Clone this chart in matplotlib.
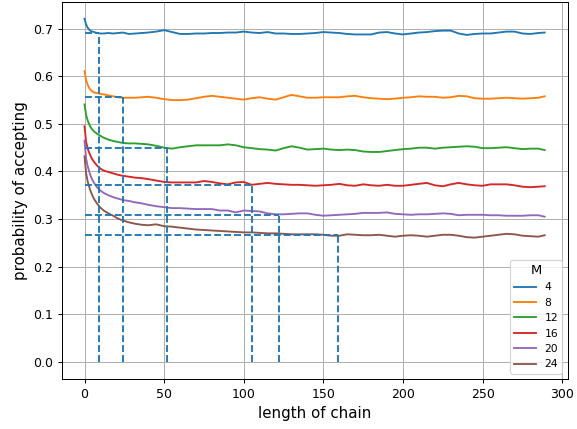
import matplotlib
matplotlib.use("Agg")
import matplotlib.pyplot as plt

# chain lengths at which the acceptance rate was recorded
steps = [0, 1, 2, 3, 4, 5, 6, 8, 10, 12, 15, 18, 21, 24, 28, 32, 36, 40, 45, 50,
         55, 60, 65, 70, 75, 80, 85, 90, 95, 100, 105, 110, 115, 120, 125, 130,
         135, 140, 145, 150, 155, 160, 165, 170, 175, 180, 185, 190, 195, 200,
         205, 210, 215, 220, 225, 230, 235, 240, 245, 250, 255, 260, 265, 270,
         275, 280, 285, 289]

m_values = [4, 8, 12, 16, 20, 24]

acc_m4 = [0.721, 0.709, 0.702, 0.698, 0.695, 0.694, 0.693, 0.691, 0.690, 0.690,
          0.691, 0.690, 0.691, 0.692, 0.689, 0.690, 0.691, 0.692, 0.694, 0.697,
          0.693, 0.689, 0.689, 0.690, 0.690, 0.691, 0.691, 0.692, 0.692, 0.694,
          0.692, 0.691, 0.693, 0.690, 0.690, 0.689, 0.689, 0.690, 0.691, 0.693,
          0.692, 0.691, 0.689, 0.688, 0.688, 0.688, 0.692, 0.693, 0.690, 0.688,
          0.690, 0.692, 0.693, 0.695, 0.696, 0.696, 0.690, 0.687, 0.689, 0.690,
          0.690, 0.692, 0.694, 0.694, 0.690, 0.689, 0.691, 0.692]

acc_m8 = [0.611, 0.592, 0.582, 0.575, 0.571, 0.568, 0.566, 0.565, 0.563, 0.562,
          0.560, 0.558, 0.556, 0.555, 0.555, 0.555, 0.556, 0.557, 0.555, 0.552,
          0.550, 0.550, 0.551, 0.554, 0.557, 0.559, 0.557, 0.555, 0.553, 0.551,
          0.554, 0.556, 0.553, 0.551, 0.556, 0.561, 0.558, 0.555, 0.555, 0.556,
          0.556, 0.556, 0.558, 0.559, 0.556, 0.554, 0.553, 0.552, 0.553, 0.555,
          0.556, 0.558, 0.557, 0.557, 0.555, 0.556, 0.559, 0.558, 0.554, 0.553,
          0.553, 0.554, 0.555, 0.554, 0.553, 0.554, 0.555, 0.558]

acc_m12 = [0.541, 0.519, 0.507, 0.499, 0.492, 0.488, 0.484, 0.479, 0.475, 0.471,
           0.467, 0.464, 0.462, 0.460, 0.459, 0.459, 0.458, 0.457, 0.454, 0.450,
           0.448, 0.451, 0.453, 0.455, 0.455, 0.455, 0.455, 0.457, 0.455, 0.451,
           0.449, 0.447, 0.446, 0.444, 0.449, 0.453, 0.450, 0.446, 0.447, 0.448,
           0.446, 0.445, 0.446, 0.445, 0.442, 0.441, 0.441, 0.443, 0.445, 0.447,
           0.448, 0.450, 0.450, 0.448, 0.450, 0.451, 0.452, 0.453, 0.452, 0.449,
           0.449, 0.450, 0.451, 0.449, 0.447, 0.448, 0.448, 0.445]

acc_m16 = [0.495, 0.462, 0.448, 0.439, 0.431, 0.425, 0.420, 0.412, 0.406, 0.402,
           0.399, 0.396, 0.393, 0.391, 0.389, 0.387, 0.386, 0.384, 0.381, 0.378,
           0.377, 0.377, 0.377, 0.377, 0.380, 0.378, 0.375, 0.373, 0.377, 0.378,
           0.372, 0.374, 0.376, 0.374, 0.373, 0.372, 0.372, 0.371, 0.370, 0.371,
           0.372, 0.374, 0.371, 0.370, 0.373, 0.371, 0.370, 0.372, 0.370, 0.370,
           0.372, 0.374, 0.376, 0.371, 0.369, 0.373, 0.376, 0.373, 0.371, 0.370,
           0.373, 0.373, 0.373, 0.371, 0.368, 0.367, 0.368, 0.369]

acc_m20 = [0.465, 0.427, 0.411, 0.399, 0.389, 0.382, 0.376, 0.366, 0.360, 0.355,
           0.350, 0.346, 0.343, 0.340, 0.338, 0.335, 0.333, 0.330, 0.327, 0.325,
           0.323, 0.323, 0.322, 0.321, 0.321, 0.321, 0.318, 0.318, 0.314, 0.318,
           0.317, 0.316, 0.312, 0.310, 0.310, 0.311, 0.312, 0.312, 0.309, 0.307,
           0.308, 0.309, 0.310, 0.311, 0.313, 0.313, 0.313, 0.314, 0.311, 0.310,
           0.309, 0.310, 0.310, 0.311, 0.312, 0.311, 0.308, 0.309, 0.309, 0.309,
           0.308, 0.308, 0.307, 0.307, 0.307, 0.308, 0.308, 0.305]

acc_m24 = [0.432, 0.396, 0.379, 0.367, 0.357, 0.349, 0.342, 0.332, 0.324, 0.318,
           0.312, 0.307, 0.301, 0.297, 0.293, 0.290, 0.288, 0.287, 0.289, 0.285,
           0.284, 0.282, 0.280, 0.278, 0.277, 0.276, 0.275, 0.274, 0.273, 0.272,
           0.272, 0.271, 0.270, 0.270, 0.269, 0.268, 0.268, 0.268, 0.268, 0.267,
           0.265, 0.265, 0.268, 0.267, 0.266, 0.266, 0.267, 0.265, 0.263, 0.265,
           0.266, 0.265, 0.263, 0.265, 0.267, 0.267, 0.265, 0.262, 0.261, 0.263,
           0.265, 0.267, 0.269, 0.268, 0.265, 0.264, 0.263, 0.266]

# settled acceptance level and the chain length where each curve reaches it
settle_len = [9, 24, 52, 105, 122, 159]
settle_level = [0.692, 0.556, 0.450, 0.371, 0.309, 0.266]

series = [acc_m4, acc_m8, acc_m12, acc_m16, acc_m20, acc_m24]

fig = plt.figure(figsize=(577 / 90, 429 / 90), dpi=90)
ax = fig.add_axes([0.1066, 0.1166, 0.8773, 0.8797])

for m, vals in zip(m_values, series):
    ax.plot(steps, vals, label=str(m), linewidth=1.5)

for xl, yl in zip(settle_len, settle_level):
    ax.plot([0, xl], [yl, yl], "--", color="C0", linewidth=1.5)
    ax.plot([xl, xl], [0, yl], "--", color="C0", linewidth=1.5)

ax.set_xticks([0, 50, 100, 150, 200, 250, 300])
ax.set_yticks([0.0, 0.1, 0.2, 0.3, 0.4, 0.5, 0.6, 0.7])
ax.grid(True)
ax.set_xlabel("length of chain", fontsize=12)
ax.set_ylabel("probability of accepting", fontsize=12)

handles, labels = ax.get_legend_handles_labels()
ax.legend(handles[:6], labels[:6], title="M", loc="lower right",
          fontsize=8.6, title_fontsize=10.5)

fig.savefig("out.png", dpi=90)
